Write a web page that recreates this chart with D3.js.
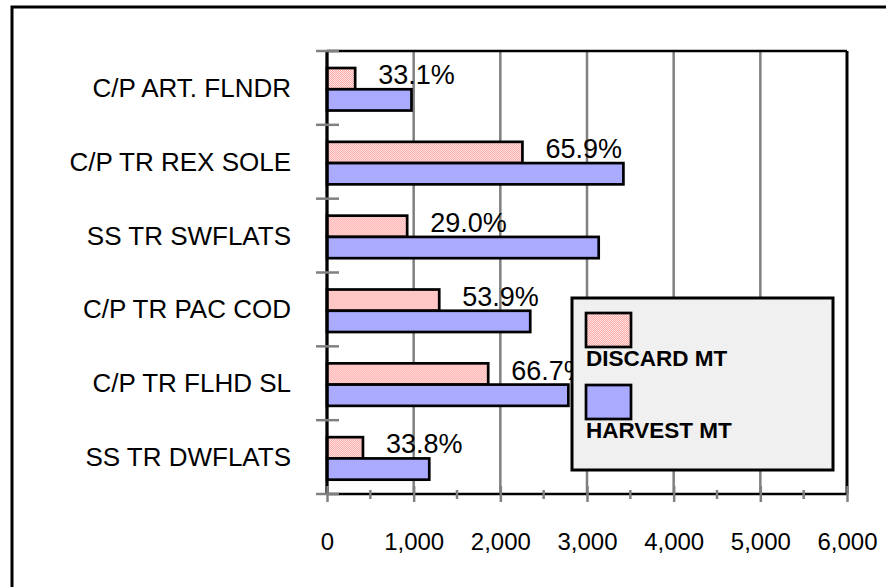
<!DOCTYPE html>
<html>
<head>
<meta charset="utf-8">
<script src="https://cdn.jsdelivr.net/npm/d3@7"></script>
<style>
  body { margin: 0; background: #fff; }
  svg { display: block; font-family: Arial, "Liberation Sans", sans-serif; }
</style>
</head>
<body>
<div id="chart"></div>
<script>
var categories = ["C/P ART. FLNDR", "C/P TR REX SOLE", "SS TR SWFLATS", "C/P TR PAC COD", "C/P TR FLHD SL", "SS TR DWFLATS"];
var discard = [325, 2255, 925, 1295, 1860, 415];
var harvest = [975, 3420, 3135, 2345, 2785, 1180];
var pctLabels = ["33.1%", "65.9%", "29.0%", "53.9%", "66.7%", "33.8%"];
var xTicks = [0, 1000, 2000, 3000, 4000, 5000, 6000];
var xMinorTicks = [500, 1500, 2500, 3500, 4500, 5500];
var seriesNames = ["DISCARD MT", "HARVEST MT"];

var W = 886, H = 587;
var plot = {left: 327, right: 847, top: 51, bottom: 494};

var svg = d3.select("#chart")
    .append("svg")
    .attr("width", W)
    .attr("height", H);

var defs = svg.append("defs");
var pink = defs.append("pattern")
    .attr("id", "pinkdots")
    .attr("width", 2).attr("height", 2)
    .attr("patternUnits", "userSpaceOnUse");
pink.append("rect").attr("width", 2).attr("height", 2).attr("fill", "#ffa8a8");
pink.append("rect").attr("x", 0).attr("y", 0).attr("width", 1).attr("height", 1).attr("fill", "#ffe4e4");
pink.append("rect").attr("x", 1).attr("y", 1).attr("width", 1).attr("height", 1).attr("fill", "#ffe4e4");

var grey = defs.append("pattern")
    .attr("id", "greydots")
    .attr("width", 2).attr("height", 2)
    .attr("patternUnits", "userSpaceOnUse");
grey.append("rect").attr("width", 2).attr("height", 2).attr("fill", "#ececec");
grey.append("rect").attr("width", 1).attr("height", 1).attr("fill", "#f4f4f4");
grey.append("rect").attr("x", 1).attr("y", 1).attr("width", 1).attr("height", 1).attr("fill", "#f4f4f4");

var fills = ["url(#pinkdots)", "#aaaaff"];

// outer frame (cut off at right and bottom)
svg.append("rect")
    .attr("x", 12).attr("y", 7)
    .attr("width", 920).attr("height", 620)
    .attr("fill", "#fff")
    .attr("stroke", "#000")
    .attr("stroke-width", 3);

var x = d3.scaleLinear().domain([0, 6000]).range([plot.left, plot.right]);
var y = d3.scaleBand().domain(categories).range([plot.top, plot.bottom]);
var ySub = d3.scaleBand().domain(["d", "h"]).range([0, y.bandwidth()])
    .paddingInner(0).paddingOuter(0.737).align(0.543);

// gridlines
svg.append("g")
    .selectAll("line")
    .data(xTicks.slice(1, -1))
    .enter()
    .append("line")
    .attr("x1", function(d) { return x(d); })
    .attr("x2", function(d) { return x(d); })
    .attr("y1", plot.top)
    .attr("y2", plot.bottom)
    .attr("stroke", "#808080")
    .attr("stroke-width", 2.5);

// bars
var rows = categories.map(function(c, i) {
    return {cat: c, d: discard[i], h: harvest[i], pct: pctLabels[i]};
});

var g = svg.append("g")
    .selectAll("g")
    .data(rows)
    .enter()
    .append("g")
    .attr("transform", function(d) { return "translate(0," + y(d.cat) + ")"; });

g.append("rect")
    .attr("x", x(0))
    .attr("y", ySub("d"))
    .attr("width", function(d) { return x(d.d) - x(0); })
    .attr("height", ySub.bandwidth())
    .attr("fill", fills[0])
    .attr("stroke", "#000")
    .attr("stroke-width", 2.7);

g.append("rect")
    .attr("x", x(0))
    .attr("y", ySub("h"))
    .attr("width", function(d) { return x(d.h) - x(0); })
    .attr("height", ySub.bandwidth())
    .attr("fill", fills[1])
    .attr("stroke", "#000")
    .attr("stroke-width", 2.7);

// plot border
svg.append("line")
    .attr("x1", plot.left).attr("x2", plot.right)
    .attr("y1", plot.top).attr("y2", plot.top)
    .attr("stroke", "#000").attr("stroke-width", 2.5);
svg.append("line")
    .attr("x1", plot.right).attr("x2", plot.right)
    .attr("y1", plot.top).attr("y2", plot.bottom)
    .attr("stroke", "#000").attr("stroke-width", 3);
svg.append("line")
    .attr("x1", plot.left).attr("x2", plot.left)
    .attr("y1", plot.top).attr("y2", plot.bottom)
    .attr("stroke", "#000").attr("stroke-width", 3.3);

// x axis
var xAxis = svg.append("g")
    .attr("transform", "translate(0," + plot.bottom + ")")
    .call(d3.axisBottom(x).tickValues(xTicks).tickFormat(d3.format(",")).tickSize(8).tickPadding(31));
xAxis.select(".domain")
    .attr("d", "M" + plot.left + ",0H" + plot.right)
    .attr("stroke", "#000")
    .attr("stroke-width", 2.5);
xAxis.selectAll(".tick line")
    .attr("y1", -8).attr("y2", 8)
    .attr("stroke", "#808080")
    .attr("stroke-width", 2.5);
xAxis.selectAll(".tick text")
    .attr("font-size", "24px")
    .attr("fill", "#000")
    .attr("font-family", "Arial, 'Liberation Sans', sans-serif");

xAxis.selectAll(".minor")
    .data(xMinorTicks)
    .enter()
    .append("line")
    .attr("class", "minor")
    .attr("x1", function(d) { return x(d); })
    .attr("x2", function(d) { return x(d); })
    .attr("y1", -4).attr("y2", 5)
    .attr("stroke", "#808080")
    .attr("stroke-width", 2.5);

// category ticks
var edges = categories.map(function(c) { return y(c); }).concat([plot.bottom]);
svg.append("g")
    .selectAll("line")
    .data(edges)
    .enter()
    .append("line")
    .attr("x1", plot.left - 11).attr("x2", plot.left + 12)
    .attr("y1", function(d) { return d; })
    .attr("y2", function(d) { return d; })
    .attr("stroke", "#808080")
    .attr("stroke-width", 2.5);

// category labels
svg.append("g")
    .selectAll("text")
    .data(categories)
    .enter()
    .append("text")
    .attr("x", 291)
    .attr("y", function(d) { return y(d) + y.bandwidth() / 2 + 9; })
    .attr("text-anchor", "end")
    .attr("font-size", "26px")
    .text(function(d) { return d; });

// percent labels
g.append("text")
    .attr("x", function(d) { return x(d.d) + 23; })
    .attr("y", ySub("d") + ySub.bandwidth() - 5)
    .attr("font-size", "27px")
    .text(function(d) { return d.pct; });

// legend
var legend = svg.append("g");
legend.append("rect")
    .attr("x", 572).attr("y", 298)
    .attr("width", 261).attr("height", 172)
    .attr("fill", "url(#greydots)")
    .attr("stroke", "#000")
    .attr("stroke-width", 3);

var items = legend.selectAll("g")
    .data(seriesNames)
    .enter()
    .append("g")
    .attr("transform", function(d, i) { return "translate(0," + (i * 72) + ")"; });

items.append("rect")
    .attr("x", 586).attr("y", 313)
    .attr("width", 45).attr("height", 34)
    .attr("fill", function(d, i) { return fills[i]; })
    .attr("stroke", "#000")
    .attr("stroke-width", 2.7);

items.append("text")
    .attr("x", 586).attr("y", 366)
    .attr("font-size", "22.5px")
    .attr("font-weight", "bold")
    .text(function(d) { return d; });
</script>
</body>
</html>
